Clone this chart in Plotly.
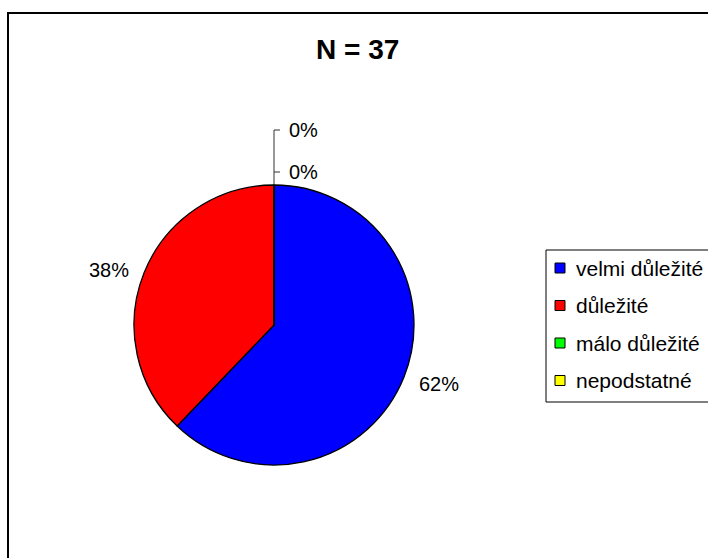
import math
import plotly.graph_objects as go

# Survey answers (N respondents) and their slice colours
categories = ["velmi důležité", "důležité", "málo důležité", "nepodstatné"]
counts = [23, 14, 0, 0]
colors = ["#0000FF", "#FF0000", "#00FF00", "#FFFF00"]

W, H = 708, 558
FONT = "Arial, Liberation Sans, sans-serif"


def px(x):
    return x / W


def py(y):
    return 1 - y / H


# pie geometry in pixels
cx, cy, r = 274, 325, 140

total = sum(counts)
pct = [round(100 * v / total) for v in counts]

fig = go.Figure(
    go.Pie(
        labels=categories,
        values=counts,
        marker=dict(colors=colors, line=dict(color="black", width=1.3)),
        sort=False,
        direction="clockwise",
        rotation=0,
        textinfo="none",
        hoverinfo="label+percent",
        showlegend=False,
        domain=dict(x=[px(cx - r), px(cx + r)], y=[py(cy + r), py(cy - r)]),
    )
)

annotations = []
shapes = []

# percentage labels around the pie
cum = 0
zero_k = 0
zero_pts = []
for v, p in zip(counts, pct):
    mid = math.radians((cum + v / 2) / total * 360)
    cum += v
    sx, sy = math.sin(mid), -math.cos(mid)
    if v > 0:
        d = 1.1 * r
        annotations.append(dict(
            x=px(cx + d * sx), y=py(cy + d * sy + 2), xref="paper", yref="paper",
            text=f"{p}%", showarrow=False,
            xanchor="left" if sx > 0 else "right", yanchor="middle",
            font=dict(family=FONT, size=20, color="black"),
        ))
    else:
        ex, ey = cx + r * sx, cy + r * sy
        ly = ey - 13 - 42 * zero_k
        zero_k += 1
        zero_pts.append((ex, ey, ly))
        annotations.append(dict(
            x=px(ex + 13), y=py(ly), xref="paper", yref="paper",
            text=f"{p}%", showarrow=False, xanchor="left", yanchor="middle",
            font=dict(family=FONT, size=20, color="black"),
        ))

# leader line for the empty slices
if zero_pts:
    ex, ey, _ = zero_pts[0]
    top = min(p[2] for p in zero_pts)
    path = f"M {px(ex)} {py(ey)} L {px(ex)} {py(top)}"
    for _, _, ly in zero_pts:
        path += f" M {px(ex)} {py(ly)} L {px(ex + 6)} {py(ly)}"
    shapes.append(dict(type="path", xref="paper", yref="paper", path=path,
                       line=dict(color="#333333", width=1)))

# title
annotations.append(dict(
    x=px(357), y=py(50), xref="paper", yref="paper",
    text=f"<b>N = {total}</b>", showarrow=False,
    xanchor="center", yanchor="middle",
    font=dict(family=FONT, size=28, color="black"),
))

# chart frame
shapes.append(dict(type="rect", xref="paper", yref="paper",
                   x0=px(8), y0=py(13), x1=px(724), y1=py(574),
                   line=dict(color="black", width=2), layer="below"))

# legend box with colour keys
lx, ltop, lbot = 546, 250, 402
row0, step = 268, 37.5
shapes.append(dict(type="rect", xref="paper", yref="paper",
                   x0=px(lx), y0=py(ltop), x1=px(730), y1=py(lbot),
                   line=dict(color="black", width=1), fillcolor="white"))
for i, (name, col) in enumerate(zip(categories, colors)):
    yc = row0 + step * i
    shapes.append(dict(type="rect", xref="paper", yref="paper",
                       x0=px(lx + 9), y0=py(yc + 5), x1=px(lx + 19), y1=py(yc - 5),
                       line=dict(color="black", width=1), fillcolor=col))
    annotations.append(dict(
        x=px(lx + 28), y=py(yc), xref="paper", yref="paper",
        text=name, showarrow=False, xanchor="left", yanchor="middle",
        font=dict(family=FONT, size=21, color="black"),
    ))

fig.update_layout(
    width=W, height=H,
    margin=dict(l=0, r=0, t=0, b=0, autoexpand=False),
    paper_bgcolor="white", plot_bgcolor="white",
    annotations=annotations, shapes=shapes,
    showlegend=False,
)

fig.write_html("out.html")
